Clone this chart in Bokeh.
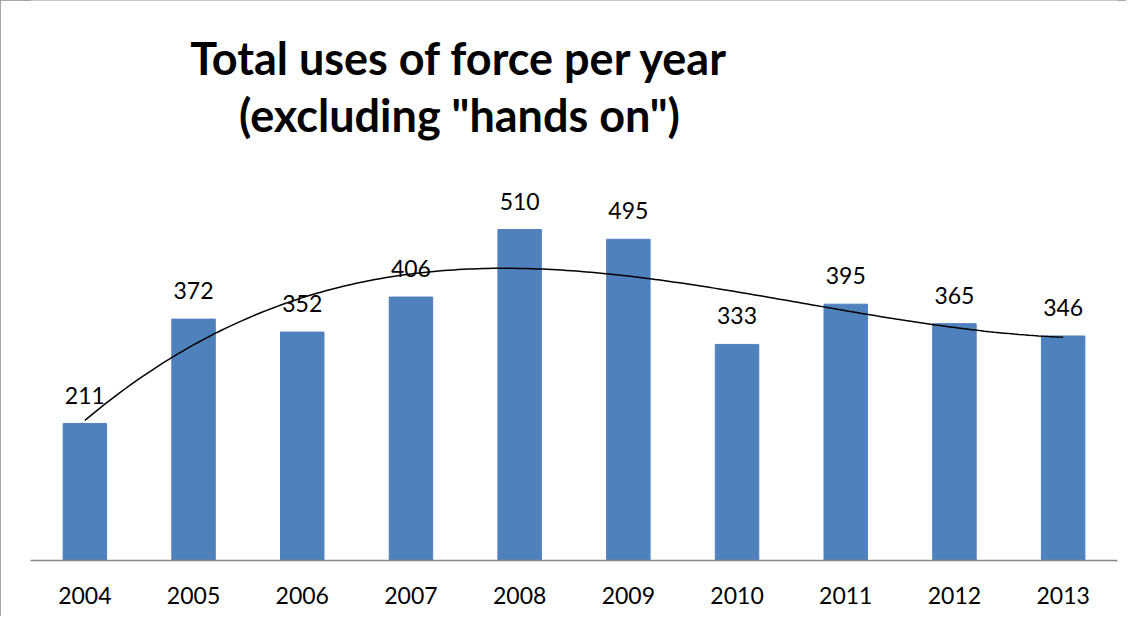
import numpy as np
from bokeh.plotting import figure
from bokeh.models import ColumnDataSource, Range1d, FixedTicker, LabelSet, Label
from bokeh.core.properties import value
from bokeh.embed import file_html
from bokeh.resources import INLINE

years = ["2004", "2005", "2006", "2007", "2008", "2009", "2010", "2011", "2012", "2013"]
uses = [211, 372, 352, 406, 510, 495, 333, 395, 365, 346]
title_lines = ["Total uses of force per year", "(excluding \"hands on\")"]

xs = list(range(len(years)))
src = ColumnDataSource(dict(x=xs, top=uses, lbl=[str(v) for v in uses]))

# frame spans the full height (hidden y axis); the title sits in the upper empty part
p = figure(width=1126, height=616, output_backend="svg", toolbar_location=None,
           x_range=Range1d(-0.5, len(years) - 0.5), y_range=Range1d(0, 863),
           min_border_left=30, min_border_right=9, min_border_top=0, min_border_bottom=56)
p.styles = {"box-shadow": "inset 2px 2px 0 #8a8a8a"}
p.outline_line_color = None
p.grid.visible = False
p.yaxis.visible = False

p.vbar(x="x", top="top", width=0.4, bottom=0, source=src, fill_color="#4F81BD", line_color="#4F81BD")

# polynomial (order 3) trendline fitted to the bars, as in the source chart
coef = np.polyfit(xs, uses, 3)
tx = np.linspace(0, len(years) - 1, 200)
p.line(tx, np.polyval(coef, tx), line_color="black", line_width=1.5)

labels = LabelSet(x="x", y="top", text="lbl", source=src, text_align="center", text_baseline="alphabetic",
                  y_offset=20, text_font=value("Lato"), text_font_size=value("23px"), text_color="#000000")
p.add_layout(labels)

ax = p.xaxis[0]
ax.ticker = FixedTicker(ticks=xs)
ax.major_label_overrides = {i: y for i, y in enumerate(years)}
ax.major_tick_line_color = None
ax.minor_tick_line_color = None
ax.axis_line_color = "#868686"
ax.axis_line_width = 1.5
ax.major_label_text_font = "Lato"
ax.major_label_text_font_size = "23px"
ax.major_label_text_color = "#000000"
ax.major_label_standoff = 20

for t, yy in zip(title_lines, [775, 686]):
    p.add_layout(Label(x=3.447, y=yy, text=t, text_align="center", text_baseline="alphabetic",
                       text_font="Lato", text_font_style="bold", text_font_size="45px",
                       text_color="#000000"))

open("out.html", "w").write(file_html(p, INLINE))
